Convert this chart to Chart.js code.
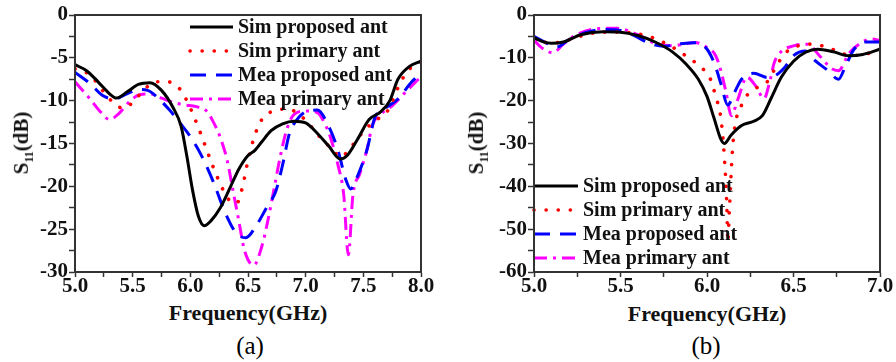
<!DOCTYPE html>
<html>
<head>
<meta charset="utf-8">
<script src="https://cdn.jsdelivr.net/npm/chart.js@4.4.1/dist/chart.umd.min.js"></script>
<style>
	body { margin: 0; background: #fff; width: 896px; height: 362px; overflow: hidden; position: relative; font-family: "Liberation Serif", serif; }
	canvas { position: absolute; top: 0; }
	.ytitle { position: absolute; font: bold 21px "Liberation Serif", serif; color: #111; white-space: nowrap; transform: translate(-50%, -50%) rotate(-90deg); }
	.ytitle sub { font-size: 12px; }
	.xtitle { position: absolute; font: bold 22px "Liberation Serif", serif; color: #111; white-space: nowrap; transform: translate(-50%, -50%); }
	.cap { position: absolute; font: 25px "Liberation Serif", serif; transform: translate(-50%, -50%); }
</style>
</head>
<body>
<canvas id="chartA" width="448" height="300" style="left:0"></canvas>
<canvas id="chartB" width="448" height="300" style="left:448px"></canvas>
<div class="ytitle" style="left:23px; top:143px">S<sub>11</sub>(dB)</div>
<div class="ytitle" style="left:478px; top:143px">S<sub>11</sub>(dB)</div>
<div class="xtitle" style="left:248px; top:313px">Frequency(GHz)</div>
<div class="xtitle" style="left:707px; top:314px">Frequency(GHz)</div>
<div class="cap" style="left:250px; top:346px">(a)</div>
<div class="cap" style="left:706px; top:346px">(b)</div>
<script>
// legend labels
var LABELS = ["Sim proposed ant", "Sim primary ant", "Mea proposed ant", "Mea primary ant"];

// (a) 5.0 - 8.0 GHz
var aSimPropF = [5.0, 5.1, 5.2, 5.3, 5.36, 5.45, 5.55, 5.65, 5.75, 5.85, 5.92, 5.97, 6.02, 6.07, 6.12, 6.18, 6.26, 6.35, 6.42, 6.5, 6.56, 6.62, 6.7, 6.8, 6.9, 7.0, 7.1, 7.2, 7.3, 7.36, 7.45, 7.55, 7.65, 7.73, 7.8, 7.9, 8.0];
var aSimPropY = [-5.8, -6.5, -7.8, -9.2, -9.7, -9.0, -8.1, -7.9, -8.8, -10.8, -13, -16.5, -20.5, -23.5, -24.6, -24, -22.5, -20, -18, -16.4, -15.8, -14.8, -13.5, -12.7, -12.4, -12.6, -13.8, -15.3, -16.8, -16.4, -14.5, -12.2, -11.3, -10, -7.5, -6.0, -5.4];

var aSimPrimF = [5.0, 5.13, 5.25, 5.33, 5.42, 5.5, 5.6, 5.7, 5.8, 5.9, 5.97, 6.03, 6.08, 6.13, 6.2, 6.28, 6.35, 6.4, 6.45, 6.5, 6.56, 6.62, 6.7, 6.8, 6.9, 7.0, 7.12, 7.24, 7.3, 7.4, 7.52, 7.62, 7.72, 7.8, 7.88, 8.0];
var aSimPrimY = [-6.3, -7.0, -9.0, -10.2, -10.9, -10.2, -8.7, -7.8, -7.8, -8.5, -10, -11.8, -13.5, -15.3, -17.8, -20.3, -21.8, -22, -20.2, -17, -14, -12.2, -11.3, -11, -11.2, -12.3, -14.2, -15.8, -16.6, -15.3, -13.3, -12.2, -11, -8.5, -6.6, -5.4];

var aMeaPropF = [5.0, 5.13, 5.24, 5.34, 5.45, 5.55, 5.63, 5.72, 5.82, 5.91, 6.0, 6.1, 6.2, 6.3, 6.4, 6.48, 6.58, 6.66, 6.74, 6.8, 6.86, 6.92, 7.0, 7.1, 7.2, 7.28, 7.35, 7.39, 7.45, 7.53, 7.6, 7.68, 7.8, 7.92, 8.0];
var aMeaPropY = [-6.7, -8.0, -9.4, -9.8, -9.2, -8.7, -8.8, -9.7, -11.1, -12.6, -14.2, -16.5, -19.5, -23, -25.5, -26, -24.4, -22.5, -20.6, -17.5, -13.8, -12.3, -11.3, -11.1, -13, -15.8, -19.3, -20.3, -18.8, -15.8, -12, -11, -9.8, -7.8, -6.8];

var aMeaPrimF = [5.0, 5.13, 5.22, 5.3, 5.38, 5.48, 5.56, 5.65, 5.75, 5.85, 5.95, 6.05, 6.14, 6.2, 6.26, 6.32, 6.37, 6.42, 6.47, 6.55, 6.62, 6.68, 6.73, 6.78, 6.84, 6.9, 7.0, 7.1, 7.17, 7.22, 7.28, 7.33, 7.37, 7.41, 7.47, 7.53, 7.58, 7.65, 7.75, 7.88, 8.0];
var aMeaPrimY = [-7.8, -9.8, -11.3, -12.2, -11.5, -10.0, -9.3, -9.2, -9.7, -10.2, -10.5, -10.7, -11.2, -12.5, -14.3, -17, -20.5, -24, -27.5, -29.2, -27, -23.5, -20, -16.5, -13.2, -11.6, -11.2, -11.4, -12.8, -14.5, -17.5, -21, -28, -21, -18.5, -15.8, -12.8, -11.6, -10.6, -8.8, -7.2];

// (b) 5.0 - 7.0 GHz
var bSimPropF = [5.0, 5.05, 5.1, 5.17, 5.27, 5.4, 5.5, 5.6, 5.7, 5.8, 5.88, 5.95, 6.0, 6.04, 6.08, 6.1, 6.14, 6.2, 6.27, 6.32, 6.37, 6.43, 6.5, 6.57, 6.64, 6.73, 6.82, 6.9, 7.0];
var bSimPropY = [-5.3, -6.2, -6.6, -6.3, -4.6, -3.9, -4.0, -4.8, -6.3, -8.6, -11.5, -15, -19, -24, -29, -30, -28, -25.8, -24.8, -23.5, -19.5, -14.5, -10.8, -8.7, -8.0, -8.6, -9.5, -9.2, -8.0];

var bSimPrimF = [5.0, 5.1, 5.2, 5.3, 5.4, 5.5, 5.6, 5.7, 5.8, 5.88, 5.95, 6.02, 6.05, 6.08, 6.1, 6.115, 6.12, 6.13, 6.15, 6.2, 6.27, 6.35, 6.4, 6.45, 6.5, 6.6, 6.7, 6.8, 6.88, 7.0];
var bSimPrimY = [-5.5, -6.6, -5.8, -4.6, -4.0, -4.0, -4.4, -5.5, -7.5, -9.6, -11.7, -15, -19, -24, -33, -45, -53, -45, -30, -21, -17.5, -15.5, -12, -9, -7.6, -6.8, -7.6, -9.2, -9.4, -8.0];

var bMeaPropF = [5.0, 5.07, 5.13, 5.2, 5.3, 5.4, 5.5, 5.58, 5.66, 5.75, 5.85, 5.93, 5.99, 6.04, 6.08, 6.12, 6.16, 6.2, 6.27, 6.35, 6.4, 6.45, 6.5, 6.57, 6.62, 6.7, 6.76, 6.8, 6.85, 6.92, 7.0];
var bMeaPropY = [-5.0, -6.5, -7.5, -5.8, -4.1, -3.4, -3.6, -4.8, -6.5, -7.3, -6.7, -6.5, -7.5, -11, -16, -21, -18, -15, -13.6, -14.6, -14, -12.2, -9.5, -8.4, -10.5, -13, -15, -12, -8, -6.3, -6.3];

var bMeaPrimF = [5.0, 5.04, 5.11, 5.17, 5.25, 5.36, 5.48, 5.6, 5.7, 5.8, 5.87, 5.93, 6.0, 6.05, 6.08, 6.11, 6.14, 6.18, 6.23, 6.28, 6.33, 6.36, 6.39, 6.43, 6.5, 6.58, 6.65, 6.72, 6.76, 6.82, 6.88, 6.95, 7.0];
var bMeaPrimY = [-5.8, -7.5, -8.8, -6.8, -4.5, -3.2, -3.1, -4.6, -6.6, -7.2, -6.8, -6.4, -7.6, -9.5, -13, -18, -23.5, -19.5, -14.5, -16.5, -19.5, -16, -11, -8.5, -7.2, -6.8, -9.5, -12.5, -13, -9, -6.8, -5.6, -6.0];

var STYLES = [
	{ color: "#000000", dash: [], cap: "butt", width: 3 },
	{ color: "#ff0000", dash: [0.1, 12], cap: "round", width: 3.6 },
	{ color: "#0000ff", dash: [16, 10], cap: "butt", width: 3 },
	{ color: "#ff00ff", dash: [13, 6, 3, 6], cap: "butt", width: 3 }
];

function pts(fs, ys) {
	return fs.map(function(f, i) { return { x: f, y: ys[i] }; });
}

function isMajor(v, step) {
	var r = Math.abs(v / step - Math.round(v / step));
	return r < 1e-6;
}

var framePlugin = {
	id: "frame",
	afterDraw: function(chart) {
		var a = chart.chartArea, ctx = chart.ctx;
		ctx.save();
		ctx.strokeStyle = "#333";
		ctx.lineWidth = 2;
		ctx.strokeRect(a.left, a.top, a.right - a.left, a.bottom - a.top);
		ctx.restore();
	}
};

var inLegendPlugin = {
	id: "inLegend",
	afterDatasetsDraw: function(chart, args, opt) {
		var a = chart.chartArea, ctx = chart.ctx;
		ctx.save();
		ctx.font = "bold 20px 'Liberation Serif', serif";
		ctx.textBaseline = "middle";
		ctx.fillStyle = "#111";
		chart.data.datasets.forEach(function(ds, i) {
			var y = a.top + opt.y + i * opt.rowH;
			var x0 = a.left + opt.x;
			ctx.beginPath();
			ctx.strokeStyle = ds.borderColor;
			ctx.lineWidth = ds.borderWidth;
			ctx.lineCap = ds.borderCapStyle;
			ctx.setLineDash(ds.borderDash);
			ctx.moveTo(x0, y);
			ctx.lineTo(x0 + opt.sampleW, y);
			ctx.stroke();
			ctx.setLineDash([]);
			ctx.fillText(ds.label, x0 + opt.sampleW + opt.gap, y + 1);
		});
		ctx.restore();
	}
};

function makeChart(id, series, xr, yr, leftW, rightPad, legend) {
	var datasets = series.map(function(s, i) {
		var st = STYLES[i];
		return {
			label: LABELS[i],
			data: pts(s[0], s[1]),
			borderColor: st.color,
			borderWidth: st.width,
			borderDash: st.dash,
			borderCapStyle: st.cap,
			pointRadius: 0,
			cubicInterpolationMode: "monotone",
			fill: false
		};
	});
	var tickFont = { family: "'Liberation Serif', serif", weight: "bold", size: 21 };
	return new Chart(document.getElementById(id), {
		type: "line",
		data: { datasets: datasets },
		plugins: [framePlugin, inLegendPlugin],
		options: {
			responsive: false,
			animation: false,
			devicePixelRatio: 1,
			layout: { padding: { left: 0, top: 15, right: rightPad, bottom: 0 } },
			plugins: {
				legend: { display: false },
				tooltip: { enabled: false },
				inLegend: legend
			},
			scales: {
				x: {
					type: "linear",
					min: xr[0], max: xr[1],
					afterFit: function(s) { s.height = 28; },
					border: { display: true, color: "#333", width: 2 },
					grid: { drawOnChartArea: false, drawTicks: true, tickLength: 5, tickWidth: 1.5, tickColor: "#333" },
					ticks: {
						stepSize: xr[2] / 2,
						autoSkip: false,
						maxRotation: 0,
						padding: -3,
						color: "#111",
						font: tickFont,
						callback: function(v) { return isMajor(v, xr[2]) ? v.toFixed(1) : ""; }
					}
				},
				y: {
					type: "linear",
					min: yr[0], max: yr[1],
					afterFit: function(s) { s.width = leftW; },
					border: { display: true, color: "#333", width: 2 },
					grid: { drawOnChartArea: false, drawTicks: true, tickLength: 6, tickWidth: 1.5, tickColor: "#333" },
					ticks: {
						stepSize: yr[2] / 2,
						autoSkip: false,
						padding: 1,
						color: "#111",
						font: tickFont,
						callback: function(v) { return isMajor(v, yr[2]) ? String(v) : ""; }
					}
				}
			}
		}
	});
}

makeChart("chartA",
	[[aSimPropF, aSimPropY], [aSimPrimF, aSimPrimY], [aMeaPropF, aMeaPropY], [aMeaPrimF, aMeaPrimY]],
	[5, 8, 0.5], [-30, 0, 5], 75, 27,
	{ x: 115, y: 12, rowH: 24, sampleW: 43, gap: 5 });

makeChart("chartB",
	[[bSimPropF, bSimPropY], [bSimPrimF, bSimPrimY], [bMeaPropF, bMeaPropY], [bMeaPrimF, bMeaPrimY]],
	[5, 7, 0.5], [-60, 0, 10], 86, 16,
	{ x: 0, y: 171, rowH: 24, sampleW: 44, gap: 5 });
</script>
</body>
</html>
